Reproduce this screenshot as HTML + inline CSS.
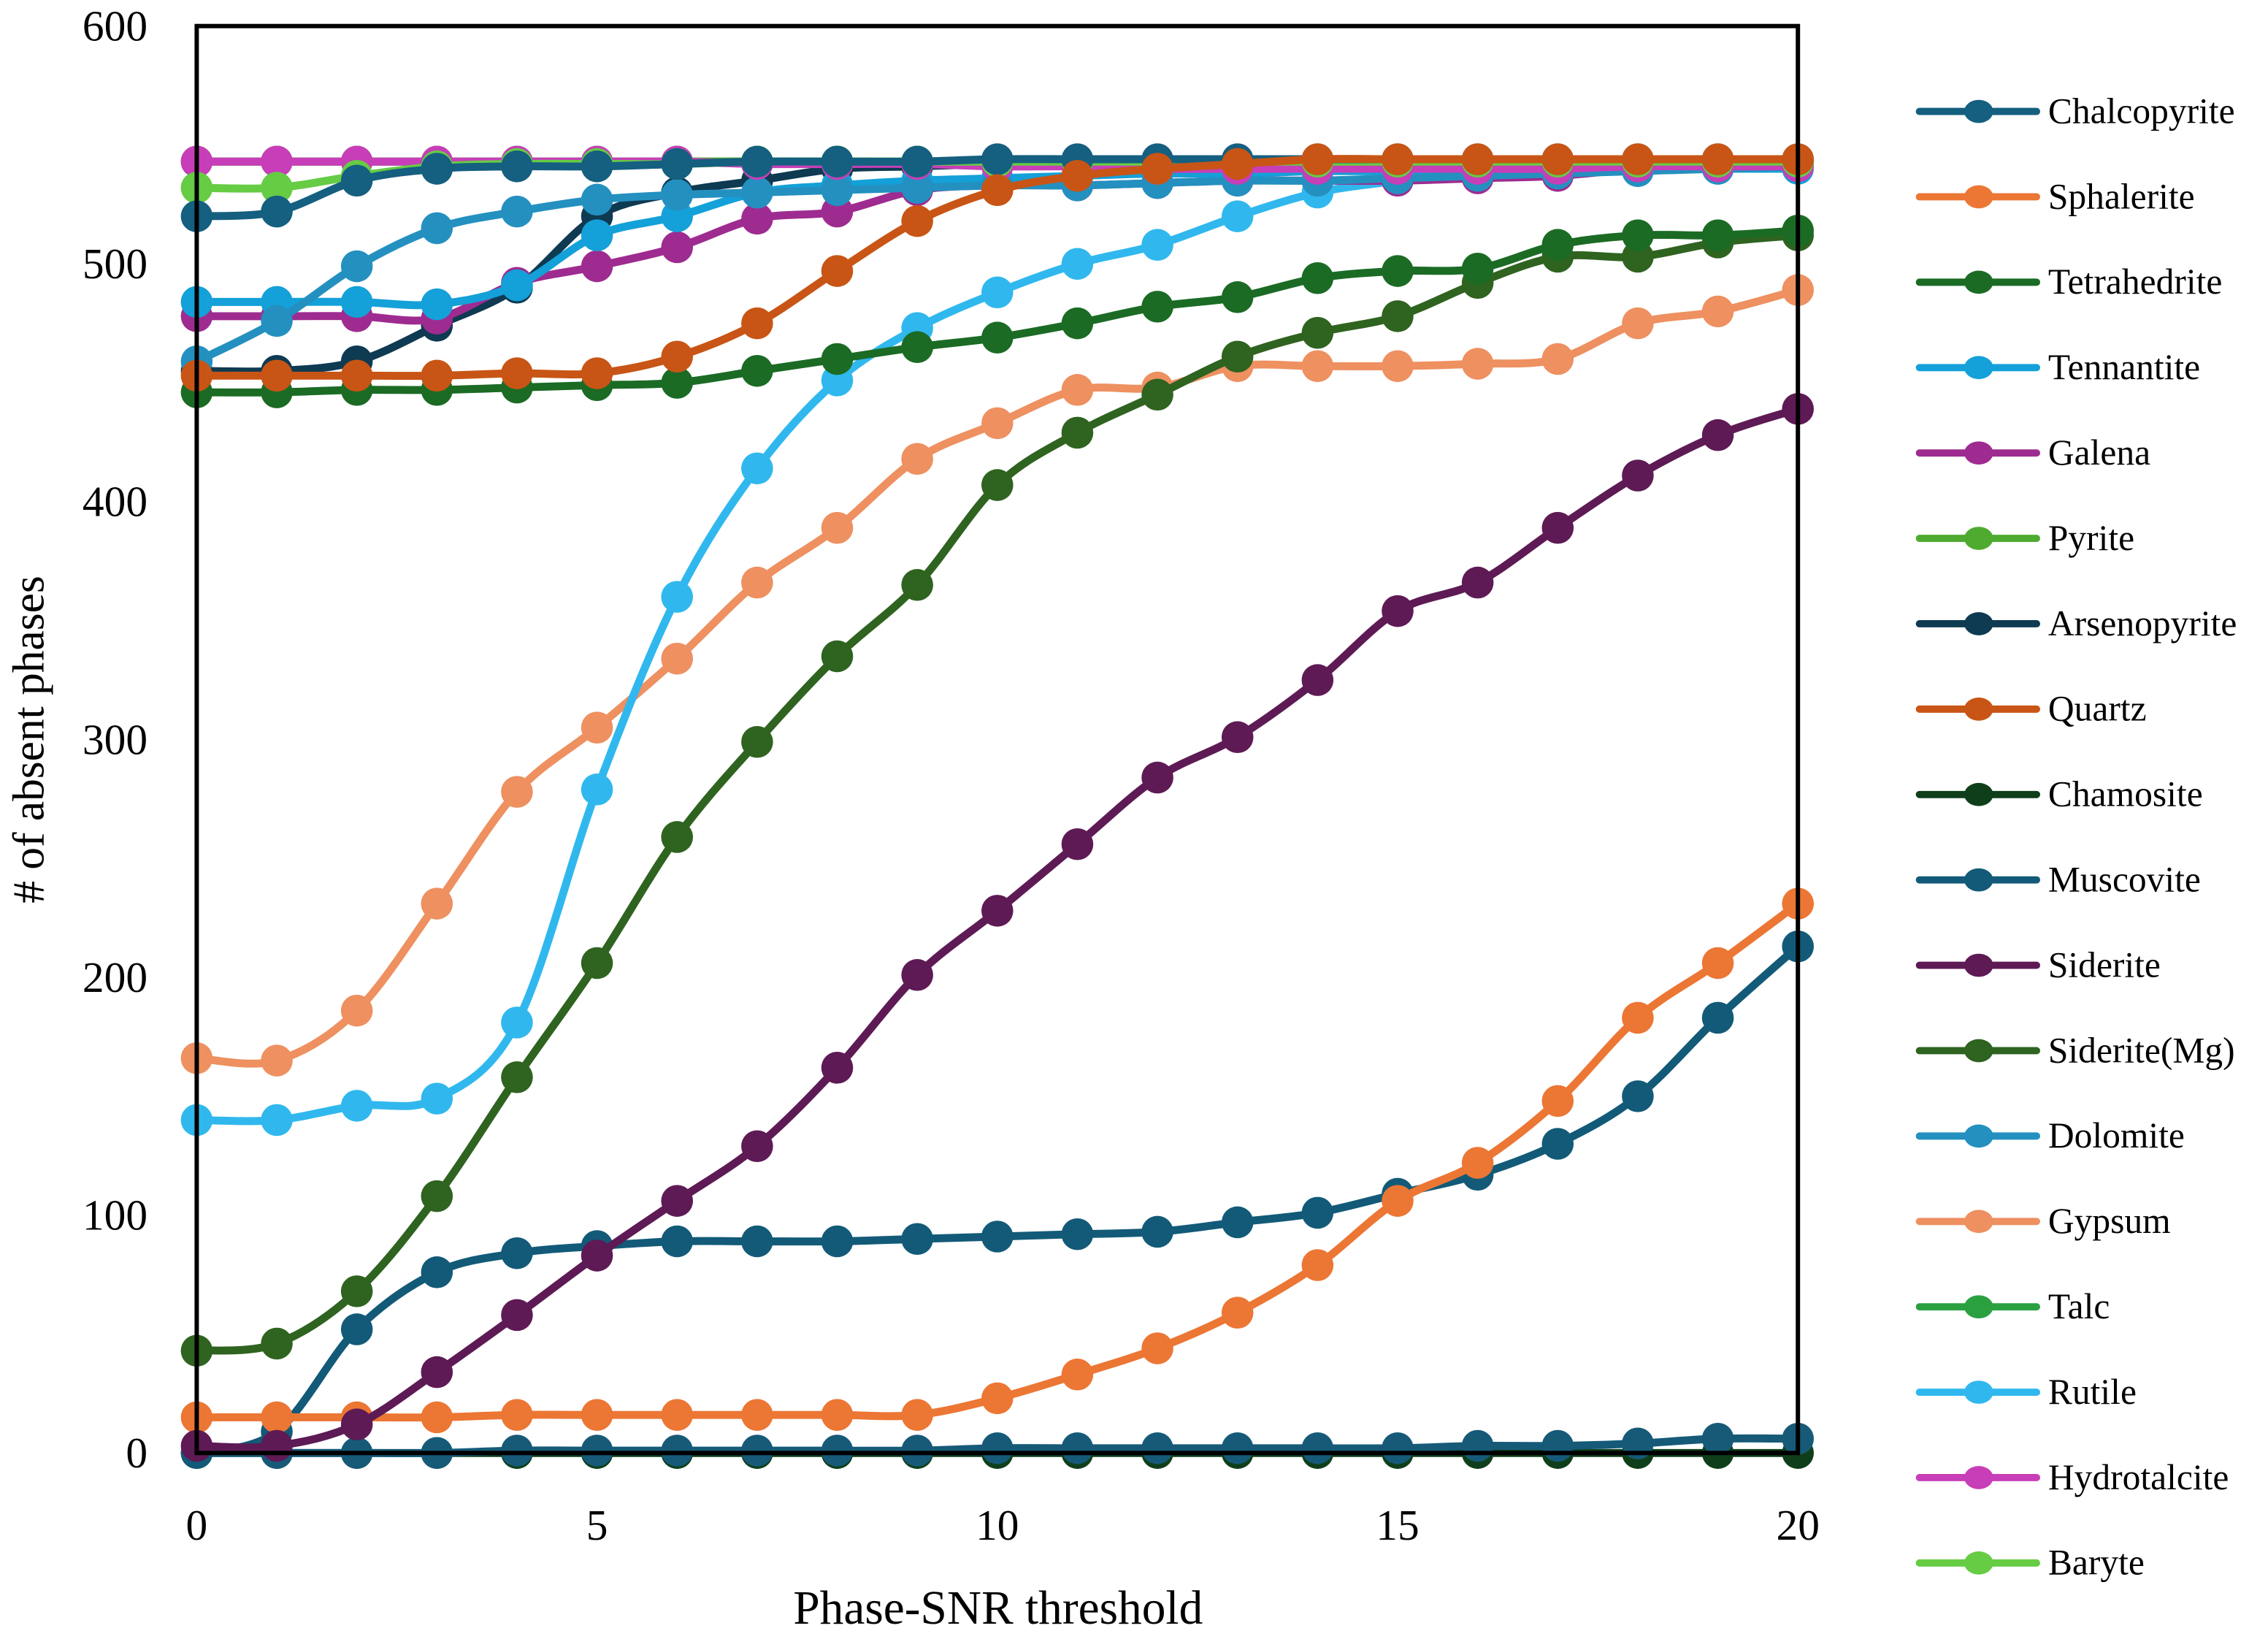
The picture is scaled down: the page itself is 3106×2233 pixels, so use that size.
<!DOCTYPE html>
<html><head><meta charset="utf-8"><style>
html,body{margin:0;padding:0;background:#fff;}
svg{display:block;}
text{font-family:"Liberation Serif",serif;fill:#000;}
</style></head><body>
<svg id="chart" width="3106" height="2233" viewBox="0 0 1568 1127" preserveAspectRatio="none" xmlns="http://www.w3.org/2000/svg">
<g id="series"></g>
<rect x="136" y="18" width="1107" height="986" fill="none" stroke="#000" stroke-width="3"/>
<g id="axes"></g>
<text x="690" y="1122" font-size="33" text-anchor="middle">Phase-SNR threshold</text>
<text transform="translate(30,511) rotate(-90)" font-size="31" text-anchor="middle"># of absent phases</text>
<g id="legend"></g>
</svg>
<script>
const NS="http://www.w3.org/2000/svg";
const xTicks=[0,5,10,15,20];
const yTicks=[0,100,200,300,400,500,600];
const seriesNames=["Chalcopyrite","Sphalerite","Tetrahedrite","Tennantite","Galena","Pyrite","Arsenopyrite","Quartz","Chamosite","Muscovite","Siderite","Siderite(Mg)","Dolomite","Gypsum","Talc","Rutile","Hydrotalcite","Baryte","Trace"];
const seriesColors=["#155f80","#ec7634","#1b6b25","#14a0d8","#9e2b90","#4fab30","#0e3a52","#c85515","#0f3f1a","#125a78","#5e1a55","#2f6320","#2490c0","#ee9060","#2aa040","#30b8ee","#c73eb8","#66cc44","#165a78"];
const sChalcopyrite=[520,522,535,540,541,541,542,543,543,543,544,544,544,544,544,544,544,544,544,544,544];
const sSphalerite=[15,15,15,15,16,16,16,16,16,16,23,33,44,59,79,106,122,148,183,206,231];
const sTetrahedrite=[446,446,447,447,448,449,450,455,460,465,469,475,482,486,494,497,498,508,512,512,514];
const sTennantite=[484,484,484,483,491,512,520,530,533,535,536,537,538,538,539,539,540,540,540,540,540];
const sGalena=[478,478,478,477,492,499,507,519,522,531,533,533,534,535,535,535,536,537,540,541,541];
const sPyrite=[543,543,543,543,543,543,543,543,543,543,543,543,543,543,543,543,543,543,543,543,543];
const sArsenopyrite=[455,455,459,474,490,520,530,535,540,541,542,542,543,543,543,543,543,543,543,543,543];
const sQuartz=[453,453,453,453,454,454,461,475,497,518,531,537,540,542,544,544,544,544,544,544,544];
const sChamosite=[0,0,0,0,0,0,0,0,0,0,0,0,0,0,0,0,0,0,0,0,0];
const sMuscovite=[0,9,52,76,84,87,89,89,89,90,91,92,93,97,101,109,117,130,150,183,213];
const sSiderite=[3,3,12,34,58,83,106,129,162,201,228,256,284,301,325,354,366,389,411,428,439];
const sSideriteMg=[43,46,68,108,158,206,259,299,335,365,407,429,445,461,471,478,492,503,503,509,512];
const sDolomite=[459,476,499,515,522,527,529,530,531,532,533,533,534,535,535,536,537,538,539,540,541];
const sGypsum=[166,165,186,231,278,305,334,366,389,418,433,447,448,457,457,457,458,460,475,480,489];
const sTalc=[543,543,543,543,543,543,543,543,543,543,543,543,543,543,543,543,543,543,543,543,543];
const sRutile=[140,140,146,149,181,279,360,414,451,473,488,500,508,520,530,535,540,541,541,541,541];
const sHydrotalcite=[543,543,543,543,543,543,543,542,542,542,541,541,540,540,540,540,540,540,541,541,541];
const sBaryte=[532,532,537,541,542,542,542,543,543,543,543,543,543,543,543,543,543,543,543,543,543];
const sTrace=[0,0,0,0,1,1,1,1,1,1,2,2,2,2,2,2,3,3,4,6,6];
const seriesValues=[sChalcopyrite,sSphalerite,sTetrahedrite,sTennantite,sGalena,sPyrite,sArsenopyrite,sQuartz,sChamosite,sMuscovite,sSiderite,sSideriteMg,sDolomite,sGypsum,sTalc,sRutile,sHydrotalcite,sBaryte,sTrace];
const drawOrder=[8,18,9,1,10,13,15,11,2,6,4,3,12,14,5,16,17,0,7];
const legendCount=18;

const X0=136,X1=1243,Y0=1004,Y1=18;
function xs(v){return X0+(X1-X0)*v/20;}
function ys(v){return Y0-(Y0-Y1)*v/600;}
function mk(tag,attrs){const e=document.createElementNS(NS,tag);for(const k in attrs)e.setAttribute(k,attrs[k]);return e;}

const axes=document.getElementById('axes');
xTicks.forEach(t=>{
  const tx=mk('text',{x:xs(t),y:1064,'font-size':30,'text-anchor':'middle'});
  
  
  tx.textContent=t;axes.appendChild(tx);
});
yTicks.forEach(t=>{
  const tx=mk('text',{x:102,y:ys(t)+10,'font-size':30,'text-anchor':'end'});
  
  
  tx.textContent=t;axes.appendChild(tx);
});

function smoothPath(pts){
  let d=`M${pts[0][0]},${pts[0][1]}`;
  for(let i=0;i<pts.length-1;i++){
    const p0=pts[Math.max(i-1,0)],p1=pts[i],p2=pts[i+1],p3=pts[Math.min(i+2,pts.length-1)];
    const c1x=p1[0]+(p2[0]-p0[0])/6,c1y=p1[1]+(p2[1]-p0[1])/6;
    const c2x=p2[0]-(p3[0]-p1[0])/6,c2y=p2[1]-(p3[1]-p1[1])/6;
    d+=` C${c1x},${c1y} ${c2x},${c2y} ${p2[0]},${p2[1]}`;
  }
  return d;
}
const sg=document.getElementById('series');
drawOrder.forEach(i=>{
  const vals=seriesValues[i],col=seriesColors[i];
  const g=mk('g',{});
  
  
  const pts=vals.map((v,k)=>[xs(k),ys(v)]);
  const p=mk('path',{d:smoothPath(pts),fill:'none',stroke:col,'stroke-width':5.5,'stroke-linecap':'round'});
  
  
  g.appendChild(p);
  pts.forEach(pt=>{
    const c=mk('circle',{cx:pt[0],cy:pt[1],r:11,fill:col});
    
    
    g.appendChild(c);
  });
  sg.appendChild(g);
});

const lg=document.getElementById('legend');
seriesNames.slice(0,legendCount).forEach((n,i)=>{
  const y=77+59*i;
  const g=mk('g',{});
  
  
  g.appendChild(mk('line',{x1:1327,y1:y,x2:1408,y2:y,stroke:seriesColors[i],'stroke-width':5,'stroke-linecap':'round'}));
  g.appendChild(mk('ellipse',{cx:1368,cy:y,rx:10,ry:8,fill:seriesColors[i]}));
  const t=mk('text',{x:1416,y:y+8,'font-size':25});
  
  
  t.textContent=n;g.appendChild(t);
  lg.appendChild(g);
});
</script>
</body></html>
